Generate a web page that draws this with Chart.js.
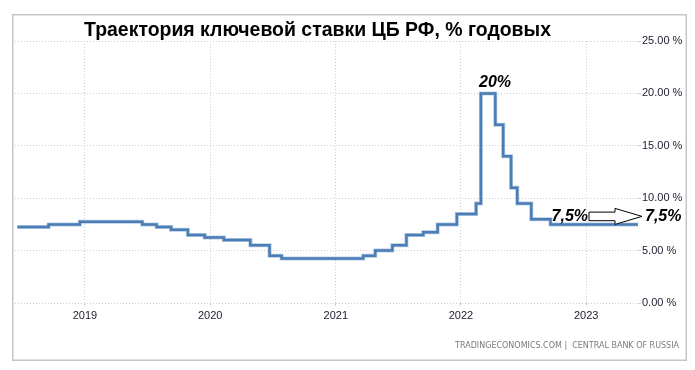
<!DOCTYPE html>
<html>
<head>
<meta charset="utf-8">
<script src="https://cdn.jsdelivr.net/npm/chart.js@4"></script>
<style>
    body { margin: 0; background: #fff; }
    canvas { display: block; }
</style>
</head>
<body>
<canvas id="rate-chart" width="695" height="370"></canvas>
<script>
// Key rate decisions (date of change, new rate %)
const rateDates = [
    '2018-06-18', '2018-09-17', '2018-12-17', '2019-06-17', '2019-07-29', '2019-09-09',
    '2019-10-28', '2019-12-16', '2020-02-10', '2020-04-27', '2020-06-22', '2020-07-27',
    '2021-03-22', '2021-04-26', '2021-06-15', '2021-07-26', '2021-09-13', '2021-10-25',
    '2021-12-20', '2022-02-14', '2022-02-28', '2022-04-11', '2022-05-04', '2022-05-27',
    '2022-06-14', '2022-07-25', '2022-09-19', '2023-06-01'
];
const rateValues = [
    7.25, 7.5, 7.75, 7.5, 7.25, 7.0,
    6.5, 6.25, 6.0, 5.5, 4.5, 4.25,
    4.5, 5.0, 5.5, 6.5, 6.75, 7.5,
    8.5, 9.5, 20, 17, 14, 11,
    9.5, 8.0, 7.5, 7.5
];
const yearTicks = [2019, 2020, 2021, 2022, 2023];
const rangeStart = '2018-06-11';
const rangeEnd = '2023-06-01';

const titleText = 'Траектория ключевой ставки ЦБ РФ, % годовых';
const sourceText = 'TRADINGECONOMICS.COM |  CENTRAL BANK OF RUSSIA';
const peakLabel = '20%';
const currentLabel = '7,5%';
const forecastLabel = '7,5%';

const points = rateDates.map((d, i) => ({ x: Date.parse(d), y: rateValues[i] }));

// Frame, title, notes and source line
const decorations = {
    id: 'decorations',
    beforeDraw(chart) {
        const c = chart.ctx;
        c.save();
        c.strokeStyle = '#c6c6c6';
        c.lineWidth = 1.5;
        c.strokeRect(12.75, 14.75, 673.5, 345.5);
        c.restore();
    },
    afterDraw(chart) {
        const c = chart.ctx;
        const xs = chart.scales.x;
        const ys = chart.scales.y;
        const area = chart.chartArea;
        c.save();

        c.fillStyle = '#000';
        c.font = 'bold 20px "Liberation Sans", Arial, sans-serif';
        c.textAlign = 'center';
        c.textBaseline = 'alphabetic';
        c.fillText(titleText, 317.5, 36, 467);

        // peak label
        c.font = 'italic bold 16px "Liberation Sans", Arial, sans-serif';
        const peakX = (xs.getPixelForValue(Date.parse('2022-02-28')) + xs.getPixelForValue(Date.parse('2022-04-11'))) / 2;
        c.fillText(peakLabel, peakX + 7, ys.getPixelForValue(20) - 6);

        // current level and arrow
        const y75 = ys.getPixelForValue(7.5);
        const ay = y75 - 8;
        const ax0 = area.right - 49;
        const ax1 = area.right - 23;
        const tip = area.right + 4;
        c.textAlign = 'right';
        c.fillText(currentLabel, ax0 - 1, y75 - 3);
        c.textAlign = 'left';
        c.fillText(forecastLabel, area.right + 7, y75 - 3);

        c.beginPath();
        c.moveTo(ax0, ay - 4.3);
        c.lineTo(ax1, ay - 4.3);
        c.lineTo(ax1, ay - 8);
        c.lineTo(tip, ay);
        c.lineTo(ax1, ay + 8);
        c.lineTo(ax1, ay + 4.3);
        c.lineTo(ax0, ay + 4.3);
        c.closePath();
        c.fillStyle = '#fff';
        c.fill();
        c.strokeStyle = '#000';
        c.lineWidth = 1;
        c.stroke();

        // source
        c.fillStyle = '#7a7a7a';
        c.font = '8px "DejaVu Sans", Verdana, sans-serif';
        c.textAlign = 'right';
        c.fillText(sourceText, 679, 348, 224);
        c.restore();
    }
};

const ctx = document.getElementById('rate-chart').getContext('2d');

const chart = new Chart(ctx, {
    type: 'line',
    data: {
        datasets: [
            {
                data: points,
                stepped: true,
                borderColor: '#4a7db5',
                borderWidth: 2.5,
                pointRadius: 0,
                fill: false,
                order: 0
            },
            {
                // soft halo under the line
                data: points,
                stepped: true,
                borderColor: 'rgba(120, 160, 205, 0.55)',
                borderWidth: 4,
                pointRadius: 0,
                fill: false,
                order: 1
            }
        ]
    },
    options: {
        responsive: false,
        animation: false,
        layout: {
            padding: { left: 15, top: 41, right: 0, bottom: 0 }
        },
        plugins: {
            legend: { display: false },
            title: { display: false },
            tooltip: { enabled: false }
        },
        scales: {
            x: {
                type: 'linear',
                min: Date.parse(rangeStart),
                max: Date.parse(rangeEnd),
                afterBuildTicks: (scale) => {
                    scale.ticks = yearTicks.map(y => ({ value: Date.UTC(y, 0, 1) }));
                },
                afterFit: (scale) => { scale.height = 67; },
                ticks: {
                    callback: (v) => String(new Date(v).getUTCFullYear()),
                    color: '#1b1b2f',
                    font: { family: '"Liberation Sans", Arial, sans-serif', size: 11 },
                    padding: 3,
                    maxRotation: 0
                },
                grid: { color: '#cfcfcf', lineWidth: 1, tickLength: 3 },
                border: { display: false, dash: [1, 2] }
            },
            y: {
                position: 'right',
                min: 0,
                max: 25,
                afterFit: (scale) => { scale.width = 57; },
                ticks: {
                    stepSize: 5,
                    callback: (v) => v.toFixed(2) + ' %',
                    color: '#1b1b2f',
                    font: { family: '"Liberation Sans", Arial, sans-serif', size: 11 },
                    padding: 1
                },
                grid: { color: '#cfcfcf', lineWidth: 1, tickLength: 3 },
                border: { display: false, dash: [1, 2] }
            }
        }
    },
    plugins: [decorations]
});
</script>
</body>
</html>
